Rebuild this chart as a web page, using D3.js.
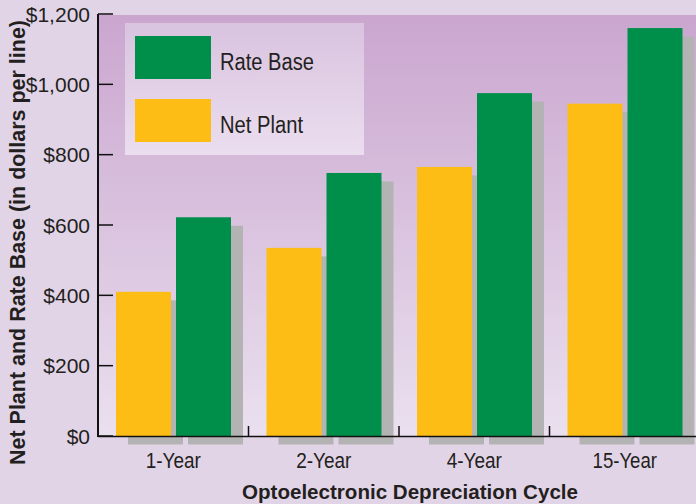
<!DOCTYPE html>
<html>
<head>
<meta charset="utf-8">
<script src="https://cdn.jsdelivr.net/npm/d3@7"></script>
<style>
  html, body { margin: 0; padding: 0; background: #e2d4e7; }
  svg { display: block; }
  text { font-family: "Liberation Sans", Arial, Helvetica, sans-serif; fill: #231f20; }
</style>
</head>
<body>
<div id="chart"></div>
<script>
const categories = ["1-Year", "2-Year", "4-Year", "15-Year"];
const seriesNames = ["Net Plant", "Rate Base"];
const netPlant = [410, 535, 765, 945];
const rateBase = [622, 748, 975, 1160];
const yTicks = [0, 200, 400, 600, 800, 1000, 1200];

const width = 696;
const height = 504;
const colors = {"Net Plant": "#fdbd14", "Rate Base": "#008e4b"};
const shadowColor = "#b3b3b3";

const rows = categories.map((c, i) => ({cat: c, "Net Plant": netPlant[i], "Rate Base": rateBase[i]}));

const plotLeft = 98, plotTop = 15, plotBottom = 436;

const svg = d3.select("#chart").append("svg")
  .attr("width", width)
  .attr("height", height)
  .attr("viewBox", [0, 0, width, height]);

const defs = svg.append("defs");
const plotGrad = defs.append("linearGradient")
  .attr("id", "plotGrad").attr("x1", 0).attr("y1", 0).attr("x2", 0).attr("y2", 1);
plotGrad.append("stop").attr("offset", "0%").attr("stop-color", "#caa6cf");
plotGrad.append("stop").attr("offset", "100%").attr("stop-color", "#eae0ef");
const legGrad = defs.append("linearGradient")
  .attr("id", "legGrad").attr("x1", 0).attr("y1", 0).attr("x2", 0).attr("y2", 1);
legGrad.append("stop").attr("offset", "0%").attr("stop-color", "#d9c3df");
legGrad.append("stop").attr("offset", "100%").attr("stop-color", "#ebdeef");

const y = d3.scaleLinear().domain([0, 1200]).range([plotBottom, 14]);
const x0 = d3.scaleBand().domain(categories).range([plotLeft, 700]);
const x1 = d3.scaleBand().domain(seriesNames).range([18, 133]).paddingInner(5 / 60);

// plot background
svg.append("rect")
  .attr("x", plotLeft).attr("y", plotTop)
  .attr("width", width - plotLeft).attr("height", plotBottom - plotTop)
  .attr("fill", "url(#plotGrad)");

// shadows, then bars
const dx = 12, dy = 8.5;
const groups = svg.append("g")
  .selectAll("g")
  .data(rows)
  .join("g")
  .attr("transform", (d) => `translate(${x0(d.cat)},0)`);

groups.selectAll(".shadow")
  .data((d) => seriesNames.map((k) => ({key: k, value: d[k]})))
  .join("rect")
  .attr("class", "shadow")
  .attr("x", (d) => x1(d.key) + dx)
  .attr("y", (d) => y(d.value) + dy)
  .attr("width", x1.bandwidth())
  .attr("height", (d) => plotBottom - y(d.value))
  .attr("fill", shadowColor);

groups.selectAll(".bar")
  .data((d) => seriesNames.map((k) => ({key: k, value: d[k]})))
  .join("rect")
  .attr("class", "bar")
  .attr("x", (d) => x1(d.key))
  .attr("y", (d) => y(d.value))
  .attr("width", x1.bandwidth())
  .attr("height", (d) => plotBottom - y(d.value))
  .attr("fill", (d) => colors[d.key]);

// legend
const legend = svg.append("g");
legend.append("rect")
  .attr("x", 125).attr("y", 23).attr("width", 239).attr("height", 132)
  .attr("fill", "url(#legGrad)");
const legendItems = [
  {key: "Rate Base", y: 36, w: 94},
  {key: "Net Plant", y: 99, w: 83}
];
legendItems.forEach((it) => {
  legend.append("rect")
    .attr("x", 135).attr("y", it.y).attr("width", 76).attr("height", 43)
    .attr("fill", colors[it.key]);
  legend.append("text")
    .attr("x", 220).attr("y", it.y + 34)
    .attr("font-size", 23)
    .attr("textLength", it.w)
    .attr("lengthAdjust", "spacingAndGlyphs")
    .text(it.key);
});

// y axis
const yAxis = svg.append("g");
yAxis.append("line")
  .attr("x1", plotLeft).attr("x2", plotLeft).attr("y1", 14).attr("y2", plotBottom + 1)
  .attr("stroke", "#111").attr("stroke-width", 2);
yAxis.selectAll(".tick")
  .data(yTicks)
  .join("line")
  .attr("x1", plotLeft).attr("x2", plotLeft + 15)
  .attr("y1", (d) => y(d)).attr("y2", (d) => y(d))
  .attr("stroke", "#111").attr("stroke-width", 1.5);
yAxis.selectAll(".lbl")
  .data(yTicks)
  .join("text")
  .attr("x", 90)
  .attr("y", (d) => y(d))
  .attr("dy", "0.36em")
  .attr("text-anchor", "end")
  .attr("font-size", 21)
  .text((d) => "$" + d3.format(",")(d));

// x axis
svg.append("line")
  .attr("x1", plotLeft).attr("x2", width).attr("y1", plotBottom + 0.5).attr("y2", plotBottom + 0.5)
  .attr("stroke", "#111").attr("stroke-width", 1.5);
svg.selectAll(".sep")
  .data(categories.slice(1))
  .join("line")
  .attr("x1", (d) => x0(d)).attr("x2", (d) => x0(d))
  .attr("y1", plotBottom - 10).attr("y2", plotBottom)
  .attr("stroke", "#111").attr("stroke-width", 1.5);
svg.selectAll(".xlbl")
  .data(categories)
  .join("text")
  .attr("x", (d) => x0(d) + x0.bandwidth() / 2)
  .attr("y", 468)
  .attr("text-anchor", "middle")
  .attr("font-size", 21.5)
  .attr("textLength", (d) => d.length * 9.2)
  .attr("lengthAdjust", "spacingAndGlyphs")
  .text((d) => d);

// axis titles
svg.append("text")
  .attr("x", 410).attr("y", 499)
  .attr("text-anchor", "middle")
  .attr("font-size", 21)
  .attr("font-weight", "bold")
  .attr("textLength", 336)
  .attr("lengthAdjust", "spacingAndGlyphs")
  .text("Optoelectronic Depreciation Cycle");

svg.append("text")
  .attr("transform", "translate(25,242.5) rotate(-90)")
  .attr("text-anchor", "middle")
  .attr("font-size", 22)
  .attr("font-weight", "bold")
  .attr("textLength", 445)
  .attr("lengthAdjust", "spacingAndGlyphs")
  .text("Net Plant and Rate Base (in dollars per line)");
</script>
</body>
</html>
